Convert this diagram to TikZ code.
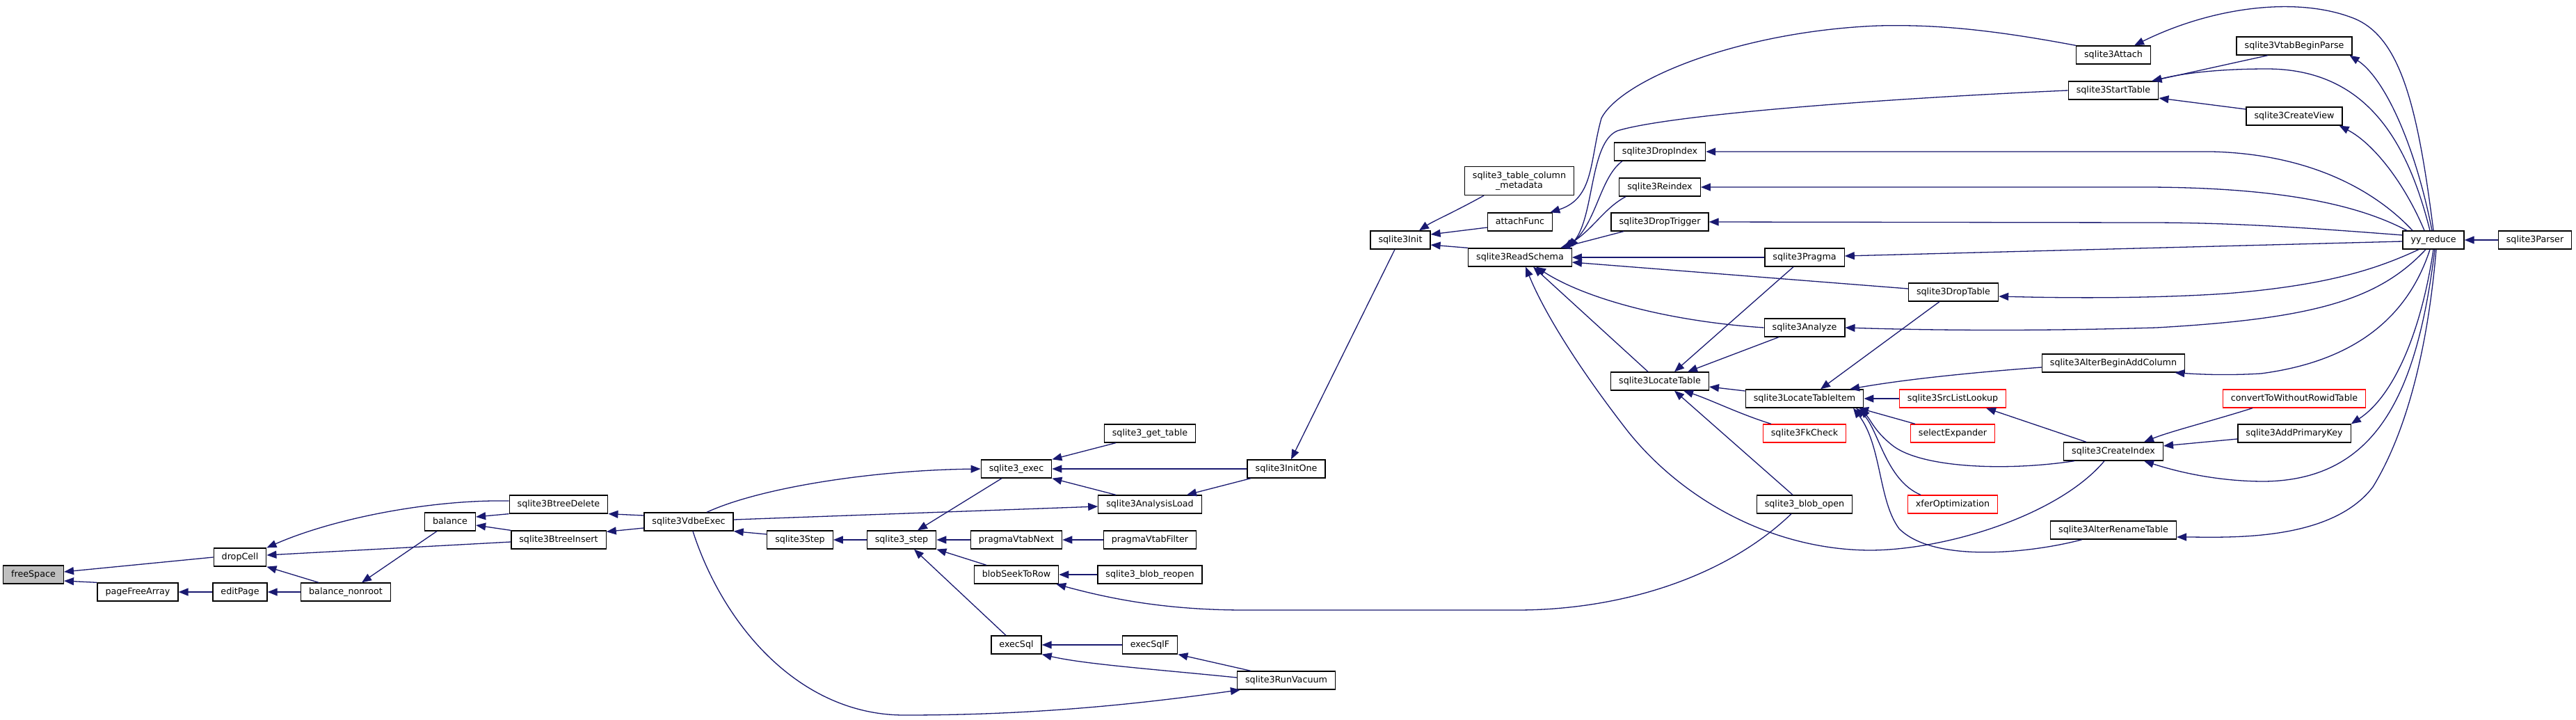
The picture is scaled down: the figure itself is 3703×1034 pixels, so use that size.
\documentclass[tikz,border=0pt]{standalone}
\usepackage{fontspec}
\setmainfont{DejaVu Sans}
\usetikzlibrary{arrows.meta}
\definecolor{edgecol}{HTML}{191970}
\definecolor{rootfill}{HTML}{BFBFBF}
\begin{document}
\begin{tikzpicture}[x=1pt,y=-1pt,
  box/.style={draw=black, fill=white, line width=1.3pt,
    font=\fontsize{12.7pt}{14.5pt}\selectfont, inner xsep=11.5pt, inner ysep=0pt},
  lbl/.style={box, minimum height=26pt, text height=9.6pt, text depth=2.6pt},
  redbox/.style={lbl, draw=red},
  rootbox/.style={lbl, fill=rootfill},
  e/.style={draw=edgecol, line width=1.3pt, -{Triangle[length=14pt,width=11pt]}}]
\useasboundingbox (0,0) rectangle (3703,1034);
\fill[white] (0,0) rectangle (3703,1034);
% ---------------- nodes ----------------
\node[rootbox] (fs) at (48,826) {freeSpace};
\node[lbl] (pfa) at (198,851) {pageFreeArray};
\node[lbl] (dc) at (345,801) {dropCell};
\node[lbl] (ep) at (345,851) {editPage};
\node[lbl] (bn) at (497,851) {balance\_nonroot};
\node[lbl] (bal) at (647,750) {balance};
\node[lbl] (btd) at (803,725) {sqlite3BtreeDelete};
\node[lbl] (bti) at (803,776) {sqlite3BtreeInsert};
\node[lbl] (vdbe) at (990,750) {sqlite3VdbeExec};
\node[lbl] (stp) at (1150,776) {sqlite3Step};
\node[lbl] (stpu) at (1296,776) {sqlite3\_step};
\node[lbl] (exec) at (1461,674) {sqlite3\_exec};
\node[lbl] (pvn) at (1461,776) {pragmaVtabNext};
\node[lbl] (bstr) at (1461,826) {blobSeekToRow};
\node[lbl] (esql) at (1461,927) {execSql};
\node[lbl] (gett) at (1653,623) {sqlite3\_get\_table};
\node[lbl] (aload) at (1653,725) {sqlite3AnalysisLoad};
\node[lbl] (pvf) at (1653,776) {pragmaVtabFilter};
\node[lbl] (breo) at (1653,826) {sqlite3\_blob\_reopen};
\node[lbl] (esqlf) at (1653,927) {execSqlF};
\node[lbl] (initone) at (1849,674) {sqlite3InitOne};
\node[lbl] (vac) at (1849,978) {sqlite3RunVacuum};
\node[lbl] (init) at (2013,345) {sqlite3Init};
\node[box, align=center, minimum height=41pt] (meta) at (2184,260) {sqlite3\_table\_column\\\_metadata};
\node[lbl] (afunc) at (2185,319) {attachFunc};
\node[lbl] (rs) at (2185,370) {sqlite3ReadSchema};
\node[lbl] (dix) at (2386,218) {sqlite3DropIndex};
\node[lbl] (rix) at (2386,269) {sqlite3Reindex};
\node[lbl] (dtr) at (2386,319) {sqlite3DropTrigger};
\node[lbl] (lt) at (2386,548) {sqlite3LocateTable};
\node[lbl] (prg) at (2594,370) {sqlite3Pragma};
\node[lbl] (anz) at (2594,471) {sqlite3Analyze};
\node[lbl] (lti) at (2594,573) {sqlite3LocateTableItem};
\node[redbox] (fk) at (2594,623) {sqlite3FkCheck};
\node[lbl] (bopen) at (2594,725) {sqlite3\_blob\_open};
\node[lbl] (dtb) at (2808,420) {sqlite3DropTable};
\node[redbox] (sll) at (2807,573) {sqlite3SrcListLookup};
\node[redbox] (sel) at (2807,623) {selectExpander};
\node[redbox] (xfer) at (2807,725) {xferOptimization};
\node[lbl] (att) at (3038,79) {sqlite3Attach};
\node[lbl] (st) at (3038,130) {sqlite3StartTable};
\node[lbl] (abac) at (3038,522) {sqlite3AlterBeginAddColumn};
\node[lbl] (ci) at (3038,649) {sqlite3CreateIndex};
\node[lbl] (art) at (3038,762) {sqlite3AlterRenameTable};
\node[lbl] (vbp) at (3298,66) {sqlite3VtabBeginParse};
\node[lbl] (cv) at (3298,167) {sqlite3CreateView};
\node[redbox] (conv) at (3298,573) {convertToWithoutRowidTable};
\node[lbl] (apk) at (3298,623) {sqlite3AddPrimaryKey};
\node[lbl] (yy) at (3498,345) {yy\_reduce};
\node[lbl] (parser) at (3644,345) {sqlite3Parser};
% ---------------- edges (caller -> callee) ----------------
% left part
\draw[e] (dc.west) -- ([yshift=4pt]fs.east);
\draw[e] (pfa.north west) -- ([yshift=-9pt]fs.east);
\draw[e] (ep) -- (pfa);
\draw[e] (bn) -- (ep);
\draw[e] ([xshift=-39pt]bn.north) -- (dc.south east);
\draw[e] ([yshift=-3pt]bti.west) -- ([yshift=3pt]dc.east);
\draw[e] ([yshift=5pt]btd.west) .. controls (620,718) and (480,745) .. (dc.north east);
\draw[e] ([xshift=-19pt]bal.south) -- ([xshift=23pt]bn.north);
\draw[e] (btd.south west) -- ([yshift=7pt]bal.east);
\draw[e] (bti.north west) -- ([yshift=-5pt]bal.east);
\draw[e] ([yshift=9pt]vdbe.west) -- (btd.south east);
\draw[e] ([yshift=-9pt]vdbe.west) -- ([yshift=-2pt]bti.north east);
% middle part
\draw[e] ([yshift=8pt]stp.west) -- (vdbe.south east);
\draw[e] (stpu) -- (stp);
\draw[e] ([xshift=-21pt]exec.south) -- ([xshift=23pt]stpu.north);
\draw[e] (pvn) -- (stpu);
\draw[e] ([xshift=-43pt]bstr.north) -- (stpu.south east);
\draw[e] ([xshift=-15pt]esql.north) -- ([xshift=18pt]stpu.south);
\draw[e] ([xshift=26pt]vdbe.north) .. controls (1090,702) and (1250,676) .. (exec.west);
\draw[e] ([yshift=3pt]vdbe.east) -- ([yshift=-3pt]aload.west);
\draw[e] ([xshift=-49pt]gett.south) -- (exec.north east);
\draw[e] (initone) -- (exec);
\draw[e] ([xshift=-49pt]aload.north) -- (exec.south east);
\draw[e] ([xshift=-51pt]initone.south) -- ([xshift=53pt]aload.north);
\draw[e] ([xshift=-8pt]init.south) -- ([xshift=7pt]initone.north);
\draw[e] (pvf) -- (pvn);
\draw[e] (breo) -- (bstr);
\draw[e] ([xshift=-19pt]bopen.south) .. controls (2480,830) and (2330,877) .. (2180,877)
   -- (1790,877) .. controls (1680,877) and (1600,862) .. ([xshift=-4pt]bstr.south east);
\draw[e] (esqlf) -- (esql);
\draw[e] ([yshift=4pt]vac.west) .. controls (1660,962) and (1560,955) .. (esql.south east);
\draw[e] ([xshift=-51pt]vac.north) -- (esqlf.south east);
\draw[e] ([xshift=6pt]vdbe.south) .. controls (1040,900) and (1150,1028) .. (1300,1028)
   .. controls (1500,1028) and (1650,1010) .. ([xshift=5pt]vac.south west);
% right-middle part
\draw[e] ([xshift=-51pt]meta.south) .. controls (2090,305) and (2060,318) .. ([xshift=27pt]init.north);
\draw[e] ([yshift=-8pt]afunc.west) -- ([yshift=8pt]init.east);
\draw[e] (rs.north west) -- ([yshift=-7pt]init.east);
\draw[e] (att.north west) .. controls (2860,42) and (2780,35) .. (2700,37)
   .. controls (2500,45) and (2330,115) .. (2302,170)
   .. controls (2285,230) and (2292,285) .. ([xshift=-4pt]afunc.north east);
\draw[e] (st.west) .. controls (2700,142) and (2400,165) .. (2325,188)
   .. controls (2285,205) and (2292,310) .. ([xshift=70pt]rs.north);
\draw[e] ([xshift=-54pt]dix.south) .. controls (2300,255) and (2295,320) .. ([xshift=66pt]rs.north);
\draw[e] ([xshift=-49pt]rix.south) .. controls (2305,300) and (2290,330) .. ([xshift=62pt]rs.north);
\draw[e] ([xshift=-52pt]dtr.south) -- ([xshift=58pt]rs.north);
\draw[e] (prg) -- (rs);
\draw[e] ([yshift=5pt]dtb.west) -- ([yshift=-7pt]rs.east);
\draw[e] (anz.west) .. controls (2400,462) and (2280,430) .. ([xshift=23pt]rs.south);
\draw[e] ([xshift=-17pt]lt.north) -- ([xshift=19pt]rs.south);
\draw[e] ([xshift=-13pt]ci.south) .. controls (2960,740) and (2800,790) .. (2690,791)
   .. controls (2550,791) and (2420,720) .. (2340,620)
   .. controls (2270,530) and (2220,450) .. ([xshift=8pt]rs.south);
\draw[e] ([xshift=-16pt]prg.south) -- ([xshift=21pt]lt.north);
\draw[e] ([xshift=-37pt]anz.south) -- ([xshift=40pt]lt.north);
\draw[e] ([yshift=11pt]lti.west) -- ([yshift=-8pt]lt.east);
\draw[e] ([xshift=-48pt]fk.north) .. controls (2500,595) and (2460,575) .. ([xshift=34pt]lt.south);
\draw[e] ([xshift=-17pt]bopen.north) -- ([xshift=21pt]lt.south);
\draw[e] ([xshift=-20pt]dtb.south) -- ([xshift=23pt]lti.north);
\draw[e] ([yshift=-6pt]abac.west) .. controls (2840,535) and (2740,545) .. ([xshift=65pt]lti.north);
\draw[e] (sll) -- (lti);
\draw[e] ([xshift=-54pt]sel.north) -- ([xshift=78pt]lti.south);
\draw[e] ([xshift=-46pt]xfer.north) .. controls (2710,690) and (2700,615) .. ([xshift=74pt]lti.south);
\draw[e] ([xshift=16pt]ci.south west) .. controls (2880,678) and (2760,672) .. (2720,640)
   .. controls (2695,620) and (2690,605) .. ([xshift=80pt]lti.south);
\draw[e] ([xshift=-45pt]art.south) .. controls (2920,795) and (2780,810) .. (2730,760)
   .. controls (2700,720) and (2705,640) .. ([xshift=70pt]lti.south);
\draw[e] ([xshift=-39pt]ci.north) -- ([xshift=48pt]sll.south);
\draw[e] ([xshift=-60pt]conv.south) .. controls (3180,605) and (3120,620) .. ([xshift=44pt]ci.north);
\draw[e] ([yshift=-8pt]apk.west) -- ([yshift=8pt]ci.east);
% right part (yy_reduce fan)
\draw[e] (parser) -- (yy);
\draw[e] (yy.north) .. controls (3475,150) and (3450,50) .. (3380,25)
   .. controls (3300,-5) and (3180,10) .. ([xshift=30pt]att.north);
\draw[e] ([xshift=-2pt]yy.north) .. controls (3470,200) and (3425,110) .. ([xshift=-4pt]vbp.south east);
\draw[e] ([xshift=-5pt]yy.north) .. controls (3460,200) and (3400,100) .. (3260,99)
   .. controls (3190,99) and (3140,105) .. ([xshift=-10pt]st.north east);
\draw[e] ([xshift=-38pt]vbp.south) -- ([xshift=-10pt]st.north east);
\draw[e] ([yshift=10pt]cv.west) -- ([yshift=-11pt]st.east);
\draw[e] ([xshift=-13pt]yy.north) .. controls (3455,260) and (3410,205) .. ([xshift=-5pt]cv.south east);
\draw[e] ([xshift=-30pt]yy.north) .. controls (3420,280) and (3330,222) .. (3180,218) -- (dix.east);
\draw[e] ([xshift=-38pt]yy.north) .. controls (3400,300) and (3300,270) .. (3090,269) -- (rix.east);
\draw[e] ([yshift=7pt]yy.west) .. controls (3300,326) and (3200,320) .. (3088,320) -- (dtr.east);
\draw[e] ([yshift=-2pt]yy.west) -- ([yshift=2pt]prg.east);
\draw[e] ([xshift=-21pt]yy.south) .. controls (3420,385) and (3350,410) .. (3200,422)
   .. controls (3080,430) and (2950,428) .. ([yshift=-6pt]dtb.east);
\draw[e] ([xshift=-11pt]yy.south) .. controls (3420,430) and (3330,458) .. (3100,471)
   .. controls (2900,477) and (2750,474) .. (anz.east);
\draw[e] ([xshift=-5pt]yy.south) .. controls (3460,460) and (3380,520) .. (3250,537)
   .. controls (3200,540) and (3160,538) .. ([xshift=-15pt]abac.south east);
\draw[e] (yy.south) .. controls (3480,480) and (3440,570) .. (apk.north east);
\draw[e] ([xshift=2pt]yy.south) .. controls (3475,560) and (3420,690) .. (3255,692)
   .. controls (3180,692) and (3120,675) .. ([xshift=44pt]ci.south);
\draw[e] ([xshift=4pt]yy.south) .. controls (3490,500) and (3460,620) .. (3411,700)
   .. controls (3350,780) and (3200,772) .. ([yshift=-10pt]art.east);
\end{tikzpicture}
\end{document}
